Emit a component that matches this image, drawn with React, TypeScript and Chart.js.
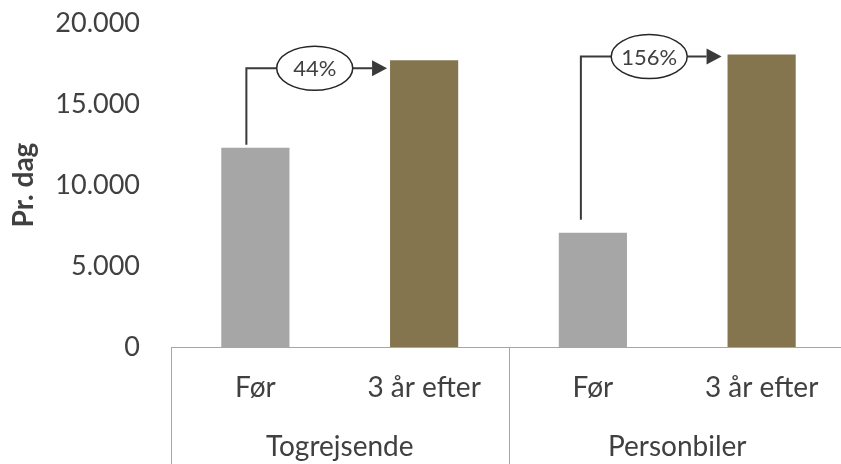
import React, { useEffect, useRef } from 'react';
import { Chart, registerables } from 'chart.js';

Chart.register(...registerables);

// ---- data ----
const categories = ['Før', '3 år efter', 'Før', '3 år efter'];
const groups = ['Togrejsende', 'Personbiler'];
const values = [12300, 17700, 7050, 18050];
const periods = ['before', 'after', 'before', 'after'];
const changeLabels = ['44%', '156%'];
const yTicks = [0, 5000, 10000, 15000, 20000];
const yTitle = 'Pr. dag';

// ---- styles ----
const FONT = "Lato, 'Open Sans', sans-serif";
const TEXT = '#404040';
const AXIS = '#A6A6A6';
const COLORS: Record<string, string> = { before: '#A6A6A6', after: '#85754E' };
const arrowStyle = [
  { lineDy: 8, dropGap: 3, dx: -9, tipGap: 3 },
  { lineDy: 2, dropGap: 13, dx: -12, tipGap: 6 },
];

const fmt = (v: number) => String(v).replace(/\B(?=(\d{3})+(?!\d))/g, '.');

const overlay = {
  id: 'overlay',
  afterDraw(chart: any) {
    const ctx = chart.ctx as CanvasRenderingContext2D;
    const ys = chart.scales.y;
    const xg = chart.scales.x2;
    const meta = chart.getDatasetMeta(0);
    ctx.save();
    // group separator lines
    ctx.strokeStyle = AXIS;
    ctx.lineWidth = 1;
    for (let i = 0; i <= groups.length; i++) {
      const px = Math.round(xg.getPixelForDecimal(i / groups.length)) + 0.5;
      ctx.beginPath();
      ctx.moveTo(px, ys.bottom);
      ctx.lineTo(px, chart.height);
      ctx.stroke();
    }
    // change arrows
    groups.forEach((_g, gi) => {
      const b = meta.data[gi * 2] as any;
      const a = meta.data[gi * 2 + 1] as any;
      const s = arrowStyle[gi];
      const lineY = a.y + s.lineDy;
      const vx = b.x + s.dx;
      const tipX = a.x - a.width / 2 - s.tipGap;
      const headLen = 15;
      const cx = (vx + tipX) / 2 - 2;
      const rx = 38;
      const ry = 22;
      ctx.strokeStyle = '#3A3A3A';
      ctx.lineWidth = 2;
      ctx.beginPath();
      ctx.moveTo(vx, b.y - s.dropGap);
      ctx.lineTo(vx, lineY);
      ctx.lineTo(cx - rx, lineY);
      ctx.moveTo(cx + rx, lineY);
      ctx.lineTo(tipX - headLen, lineY);
      ctx.stroke();
      ctx.fillStyle = '#3A3A3A';
      ctx.beginPath();
      ctx.moveTo(tipX - headLen, lineY - 8);
      ctx.lineTo(tipX, lineY);
      ctx.lineTo(tipX - headLen, lineY + 8);
      ctx.closePath();
      ctx.fill();
      ctx.beginPath();
      ctx.ellipse(cx, lineY, rx, ry, 0, 0, Math.PI * 2);
      ctx.fillStyle = '#FFFFFF';
      ctx.fill();
      ctx.lineWidth = 1.5;
      ctx.strokeStyle = '#262626';
      ctx.stroke();
      ctx.fillStyle = TEXT;
      ctx.font = `22px ${FONT}`;
      ctx.textAlign = 'center';
      ctx.textBaseline = 'middle';
      ctx.fillText(changeLabels[gi], cx, lineY + 1);
    });
    ctx.restore();
  },
};

export default function App() {
  const ref = useRef<HTMLCanvasElement>(null);
  useEffect(() => {
    document.body.style.margin = '0';
    document.body.style.overflow = 'hidden';
    const chart = new Chart(ref.current as HTMLCanvasElement, {
      type: 'bar',
      data: {
        labels: categories,
        datasets: [
          {
            data: values,
            backgroundColor: periods.map((p) => COLORS[p]),
            categoryPercentage: 1,
            barPercentage: 0.404,
          },
        ],
      },
      plugins: [overlay],
      options: {
        animation: false,
        responsive: true,
        maintainAspectRatio: false,
        layout: { padding: { top: 23, left: 0, right: 0, bottom: 0 } },
        plugins: { legend: { display: false }, tooltip: { enabled: false } },
        scales: {
          y: {
            min: 0,
            max: 20000,
            afterBuildTicks: (s: any) => {
              s.ticks = yTicks.map((v) => ({ value: v }));
            },
            grid: { display: false, drawTicks: true, tickLength: 31 },
            border: { display: false },
            ticks: {
              font: { family: FONT, size: 27 },
              color: TEXT,
              padding: 0,
              callback: (v: any) => fmt(Number(v)),
            },
            title: {
              display: true,
              text: yTitle,
              font: { family: FONT, size: 28, weight: 'bold' },
              color: TEXT,
              padding: { top: 7, bottom: 0 },
            },
            afterFit: (s: any) => {
              s.width = 171;
            },
          },
          x: {
            type: 'category',
            grid: { display: false, drawTicks: false },
            border: { display: true, color: AXIS, width: 1 },
            ticks: {
              font: { family: FONT, size: 28 },
              color: TEXT,
              padding: 24,
              autoSkip: false,
              maxRotation: 0,
            },
            afterFit: (s: any) => {
              s.height = 70;
            },
          },
          x2: {
            type: 'category',
            labels: groups,
            position: 'bottom',
            offset: true,
            grid: { display: false, drawTicks: false },
            border: { display: false },
            ticks: {
              font: { family: FONT, size: 28 },
              color: TEXT,
              padding: 13,
              autoSkip: false,
              maxRotation: 0,
            },
            afterFit: (s: any) => {
              s.height = 47;
            },
          },
        },
      } as any,
    });
    return () => chart.destroy();
  }, []);
  return (
    <div style={{ width: 841, height: 464, overflow: 'hidden', position: 'relative' }}>
      <div style={{ width: 846, height: 464, position: 'relative' }}>
        <canvas ref={ref} />
      </div>
    </div>
  );
}
